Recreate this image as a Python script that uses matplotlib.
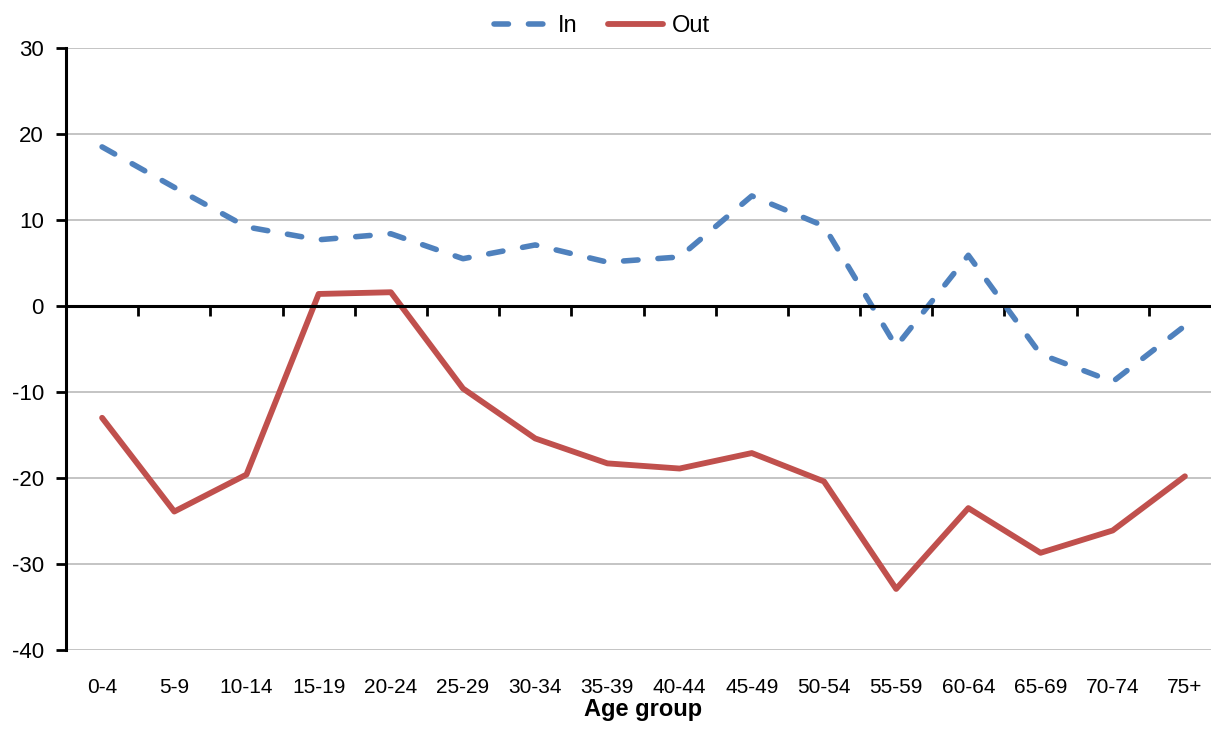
import matplotlib.pyplot as plt
import numpy as np

plt.rcParams['font.family'] = ['Liberation Sans', 'DejaVu Sans']
plt.rcParams['axes.unicode_minus'] = False

age_groups = ['0-4', '5-9', '10-14', '15-19', '20-24', '25-29', '30-34', '35-39',
              '40-44', '45-49', '50-54', '55-59', '60-64', '65-69', '70-74', '75+']
in_values = [18.5, 13.8, 9.2, 7.7, 8.4, 5.5, 7.1, 5.1, 5.7, 12.8, 9.3, -4.7, 5.9, -5.6, -8.8, -2.3]
out_values = [-13.0, -23.9, -19.6, 1.4, 1.6, -9.6, -15.4, -18.3, -18.9, -17.1, -20.4, -32.9, -23.5, -28.7, -26.1, -19.8]

x = np.arange(len(age_groups))

fig = plt.figure(figsize=(12.11, 7.29), dpi=100)
ax = fig.add_axes([66 / 1211, 79 / 729, 1155 / 1211, 602 / 729])

ax.yaxis.grid(True, color='#BFBFBF', linewidth=1.3)
ax.set_axisbelow(True)

ax.plot(x, in_values, color='#4F81BD', linewidth=4.0, linestyle=(0, (2.6, 3.6)),
        dash_capstyle='round', dash_joinstyle='round', label='In')
ax.plot(x, out_values, color='#C0504D', linewidth=4.2, solid_joinstyle='round',
        solid_capstyle='round', label='Out')

ax.set_xlim(-0.5, len(age_groups) - 0.5)
ax.set_ylim(-40, 30)
ax.set_yticks(range(-40, 31, 10))

# category axis sits on the zero line with ticks between groups
ax.spines['bottom'].set_position(('data', 0))
ax.spines['bottom'].set_linewidth(2.2)
ax.spines['left'].set_linewidth(2.2)
ax.spines['top'].set_visible(False)
ax.spines['right'].set_visible(False)
ax.set_xticks(np.arange(0.5, len(age_groups) - 0.5, 1))
ax.tick_params(axis='x', direction='out', length=7, width=2, labelbottom=False)
ax.tick_params(axis='y', direction='out', length=7, width=2, pad=9, labelsize=16)

# group labels along the bottom of the plot
sec = ax.secondary_xaxis('bottom')
sec.spines['bottom'].set_visible(False)
sec.set_xticks(x)
sec.set_xticklabels(age_groups)
sec.tick_params(length=0, pad=20, labelsize=15)
sec.set_xlabel('Age group', fontsize=17, fontweight='bold', labelpad=1)

fig.legend(loc='upper center', bbox_to_anchor=(0.497, 1.008), ncol=2, frameon=False,
           fontsize=17, handlelength=2.35, columnspacing=1.3, handletextpad=0.35)

fig.savefig('out.png', dpi=100)
